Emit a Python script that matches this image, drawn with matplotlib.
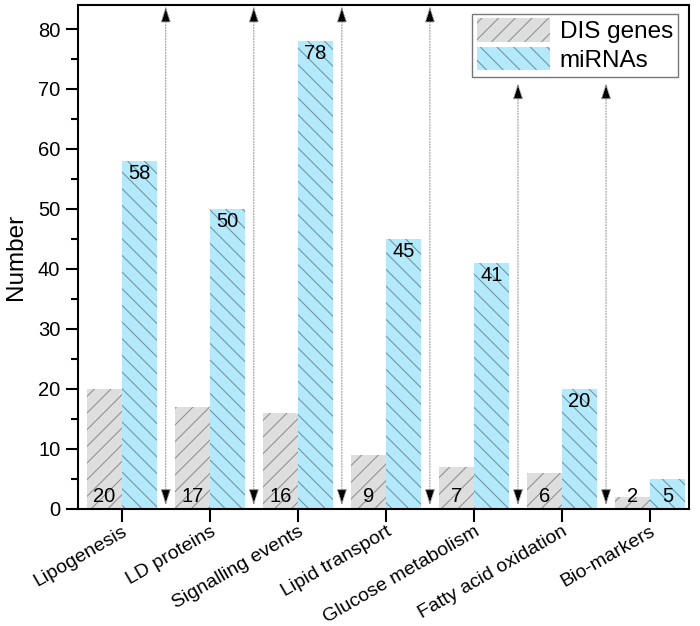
from matplotlib import pyplot as plt
from matplotlib.patches import Patch
from matplotlib.ticker import MultipleLocator
import numpy as np

categories = ["Lipogenesis", "LD proteins", "Signalling events", "Lipid transport",
              "Glucose metabolism", "Fatty acid oxidation", "Bio-markers"]
dis_genes = [20, 17, 16, 9, 7, 6, 2]
mirnas = [58, 50, 78, 45, 41, 20, 5]

# top end of each separator arrow (last two stop under the legend)
arrow_tops = [83.8, 83.8, 83.8, 83.8, 71, 71]

gray_fill = "#dedede"
gray_hatch = "#8a8a8a"
blue_fill = "#b3e9fa"
blue_hatch = "#6a8c99"


def main():
    plt.rcParams['font.family'] = ['Liberation Sans', 'DejaVu Sans']
    plt.rcParams['hatch.linewidth'] = 0.7

    fig = plt.figure(figsize=(7, 6.26), dpi=100)
    ax = fig.add_axes([0.111, 0.187, 0.873, 0.805])

    x = np.arange(len(categories))
    w = 0.4
    ax.bar(x - w / 2, dis_genes, w, color=gray_fill, edgecolor=gray_hatch,
           hatch="//", linewidth=0)
    ax.bar(x + w / 2, mirnas, w, color=blue_fill, edgecolor=blue_hatch,
           hatch="\\\\", linewidth=0)

    for i in range(len(categories)):
        ax.text(x[i] - w / 2, 0.5, str(dis_genes[i]), ha="center", va="bottom",
                fontsize=14.5)
        if mirnas[i] > 10:
            ax.text(x[i] + w / 2, mirnas[i] - 0.5, str(mirnas[i]), ha="center",
                    va="top", fontsize=14.5)
        else:
            ax.text(x[i] + w / 2, 0.5, str(mirnas[i]), ha="center", va="bottom",
                    fontsize=14.5)

    for i, top in enumerate(arrow_tops):
        ax.annotate("", xy=(i + 0.5, top), xytext=(i + 0.5, 0.6),
                    arrowprops=dict(arrowstyle="<|-|>,head_length=1.0,head_width=0.32",
                                    linestyle=(0, (1, 1.5)), edgecolor="#999999",
                                    facecolor="black", lw=0.8,
                                    shrinkA=0, shrinkB=0))

    ax.set_xlim(-0.5, 6.44)
    ax.set_ylim(0, 84)
    ax.yaxis.set_major_locator(MultipleLocator(10))
    ax.yaxis.set_minor_locator(MultipleLocator(5))
    ax.tick_params(axis="y", which="major", direction="out", length=9, width=1.5,
                   labelsize=14.5)
    ax.tick_params(axis="y", which="minor", direction="out", length=5, width=1.5)
    ax.tick_params(axis="x", direction="out", length=9, width=1.5, labelsize=14,
                   pad=1)
    ax.set_xticks(x)
    ax.set_xticklabels(categories, rotation=30, ha="right", rotation_mode="anchor")
    for s in ax.spines.values():
        s.set_linewidth(1.5)

    ax.set_ylabel("Number", fontsize=17.5, labelpad=8)

    handles = [Patch(facecolor=gray_fill, edgecolor=gray_hatch, hatch="//", linewidth=0),
               Patch(facecolor=blue_fill, edgecolor=blue_hatch, hatch="\\\\", linewidth=0)]
    leg = ax.legend(handles, ["DIS genes", "miRNAs"], loc="upper right",
                    bbox_to_anchor=(0.982, 0.983), fontsize=17.5, frameon=True,
                    fancybox=False, edgecolor="#555555", handlelength=3.0,
                    handleheight=1.1, borderpad=0.2, labelspacing=0.15,
                    handletextpad=0.4, borderaxespad=0)
    leg.get_frame().set_linewidth(1.0)

    fig.savefig("out.png", dpi=100)
    return 0


if __name__ == "__main__":
    main()
